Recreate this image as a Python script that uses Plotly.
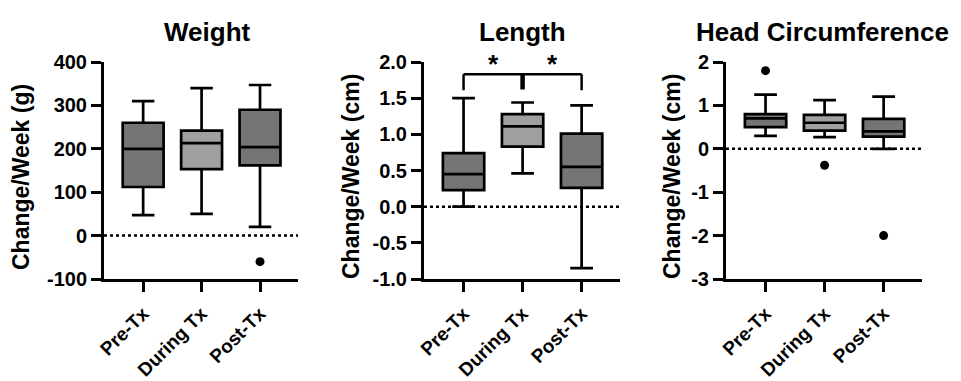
import plotly.graph_objects as go

categories = ["Pre-Tx", "During Tx", "Post-Tx"]
box_colors = ["#757575", "#a0a0a0", "#757575"]

# Weight (g/week)
weight_upper = [310, 340, 347]
weight_q3 = [260, 242, 290]
weight_median = [200, 213, 204]
weight_q1 = [112, 153, 162]
weight_lower = [47, 50, 20]
weight_out_x = ["Post-Tx"]
weight_out_y = [-60]
weight_ticks = [-100, 0, 100, 200, 300, 400]
weight_ticktext = ["-100", "0", "100", "200", "300", "400"]

# Length (cm/week)
length_upper = [1.50, 1.44, 1.40]
length_q3 = [0.74, 1.28, 1.01]
length_median = [0.45, 1.11, 0.55]
length_q1 = [0.23, 0.83, 0.26]
length_lower = [0.00, 0.46, -0.85]
length_out_x = []
length_out_y = []
length_ticks = [-1.0, -0.5, 0.0, 0.5, 1.0, 1.5, 2.0]
length_ticktext = ["-1.0", "-0.5", "0.0", "0.5", "1.0", "1.5", "2.0"]

# Head circumference (cm/week)
head_upper = [1.25, 1.12, 1.20]
head_q3 = [0.80, 0.78, 0.69]
head_median = [0.70, 0.60, 0.40]
head_q1 = [0.50, 0.42, 0.28]
head_lower = [0.30, 0.27, 0.00]
head_out_x = ["Pre-Tx", "During Tx", "Post-Tx"]
head_out_y = [1.80, -0.38, -2.00]
head_ticks = [-3, -2, -1, 0, 1, 2]
head_ticktext = ["-3", "-2", "-1", "0", "1", "2"]

titles = ["Weight", "Length", "Head Circumference"]
ytitles = ["Change/Week (g)", "Change/Week (cm)", "Change/Week (cm)"]
yranges = [[-100, 400], [-1.0, 2.0], [-3, 2]]

FONT = "Liberation Sans, Arial, sans-serif"
W, H = 961, 381
xdom_px = [(104, 298), (424, 620), (726, 922)]
ydom = [1 - 279 / H, 1 - 62 / H]
title_x_px = [207, 522, 822]
ytitle_x_px = [21, 351, 672]

panels = [
    (weight_upper, weight_q3, weight_median, weight_q1, weight_lower, weight_out_x, weight_out_y, weight_ticks, weight_ticktext),
    (length_upper, length_q3, length_median, length_q1, length_lower, length_out_x, length_out_y, length_ticks, length_ticktext),
    (head_upper, head_q3, head_median, head_q1, head_lower, head_out_x, head_out_y, head_ticks, head_ticktext),
]

fig = go.Figure()
shapes = []
annotations = []
layout = {}

for i, (up, q3, med, q1, lo, ox, oy, tv, tt) in enumerate(panels):
    n = "" if i == 0 else str(i + 1)
    xa, ya = "x" + n, "y" + n
    for j, cat in enumerate(categories):
        fig.add_trace(go.Box(
            x=[cat], q1=[q1[j]], median=[med[j]], q3=[q3[j]],
            lowerfence=[lo[j]], upperfence=[up[j]],
            fillcolor=box_colors[j], line=dict(color="black", width=2.7),
            width=0.7, whiskerwidth=0.55, boxpoints=False,
            xaxis=xa, yaxis=ya, hoverinfo="skip", showlegend=False,
        ))
    if ox:
        fig.add_trace(go.Scatter(
            x=ox, y=oy, mode="markers",
            marker=dict(color="black", size=9),
            xaxis=xa, yaxis=ya, showlegend=False, hoverinfo="skip",
        ))
    x0, x1 = xdom_px[i]
    layout["xaxis" + n] = dict(
        domain=[x0 / W, x1 / W], anchor=ya, type="category",
        categoryorder="array", categoryarray=categories,
        range=[-0.67, 2.65], showline=True, linecolor="black", linewidth=3,
        ticks="outside", ticklen=10, tickwidth=3, tickcolor="black",
        tickangle=-45, ticklabelstandoff=3,
        showgrid=False, zeroline=False, automargin=False,
        tickfont=dict(family=FONT, size=19, color="black", weight="bold"),
    )
    layout["yaxis" + n] = dict(
        domain=ydom, anchor=xa, range=yranges[i],
        tickmode="array", tickvals=tv, ticktext=tt,
        showline=True, linecolor="black",
        linewidth=3, ticks="outside", ticklen=10, tickwidth=3,
        tickcolor="black", showgrid=False, zeroline=False, automargin=False,
        tickfont=dict(family=FONT, size=20, color="black", weight="bold"),
    )
    shapes.append(dict(
        type="line", xref=xa + " domain", yref=ya, x0=0, x1=1, y0=0, y1=0,
        line=dict(color="black", width=2.5, dash="dot"), layer="below",
    ))
    annotations.append(dict(
        text=titles[i], xref="paper", yref="paper",
        x=title_x_px[i] / W, y=1 - 32 / H, xanchor="center", yanchor="middle",
        showarrow=False,
        font=dict(family=FONT, size=26, color="black", weight="bold"),
    ))
    annotations.append(dict(
        text=ytitles[i], xref="paper", yref="paper", textangle=-90,
        x=ytitle_x_px[i] / W, y=1 - 177 / H, xanchor="center", yanchor="middle",
        showarrow=False,
        font=dict(family=FONT, size=23, color="black", weight="bold"),
    ))

# significance bracket on Length panel
bk_top, bk_bot = 1.83, 1.61
line_style = dict(color="black", width=2.5)
shapes += [
    dict(type="line", xref="x2", yref="y2", x0=0, x1=2, y0=bk_top, y1=bk_top, line=line_style),
    dict(type="line", xref="x2", yref="y2", x0=0, x1=0, y0=bk_top, y1=bk_bot, line=line_style),
    dict(type="line", xref="x2", yref="y2", x0=2, x1=2, y0=bk_top, y1=bk_bot, line=line_style),
    dict(type="line", xref="x2", yref="y2", x0=1, x1=1, y0=bk_top, y1=1.62,
         line=dict(color="black", width=4.5)),
]
for sx in [0.5, 1.5]:
    annotations.append(dict(
        text="*", xref="x2", yref="y2", x=sx, y=1.97, showarrow=False,
        xanchor="center", yanchor="middle",
        font=dict(family=FONT, size=26, color="black", weight="bold"),
    ))

fig.update_layout(
    width=W, height=H, margin=dict(l=0, r=0, t=0, b=0),
    paper_bgcolor="white", plot_bgcolor="white", showlegend=False,
    shapes=shapes, annotations=annotations, **layout,
)

fig.write_html("out.html", config={"displayModeBar": False},
               post_script="document.body.style.margin='0';")
